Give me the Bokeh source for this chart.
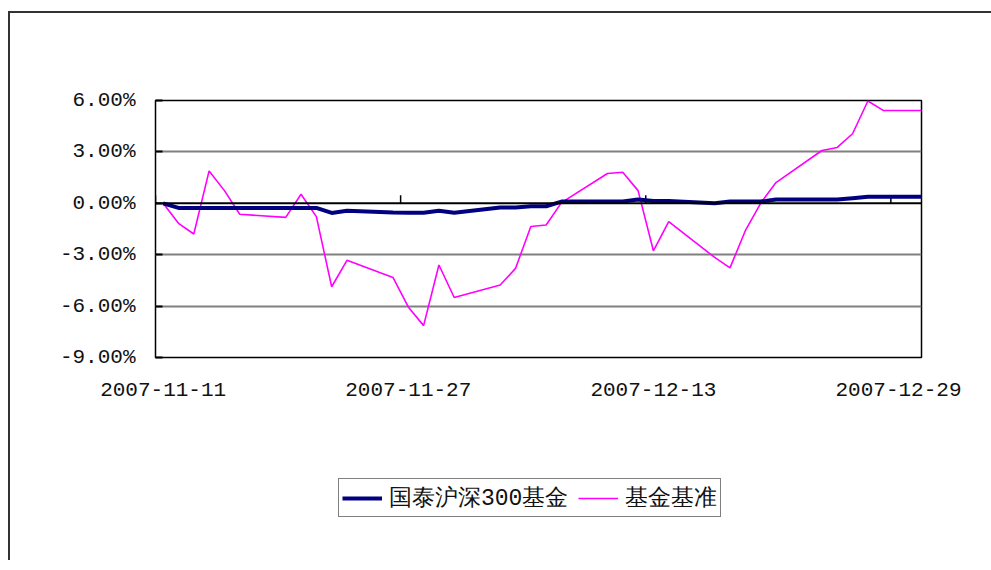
import pandas as pd
from bokeh.plotting import figure
from bokeh.layouts import column
from bokeh.models import Range1d, FixedTicker, PrintfTickFormatter, Span, Legend, LegendItem
from bokeh.embed import file_html
from bokeh.resources import INLINE

# ---- data -------------------------------------------------------------
dates = ["2007-11-11", "2007-11-12", "2007-11-13", "2007-11-14", "2007-11-15", "2007-11-16",
         "2007-11-19", "2007-11-20", "2007-11-21", "2007-11-22", "2007-11-23",
         "2007-11-26", "2007-11-27", "2007-11-28", "2007-11-29", "2007-11-30",
         "2007-12-03", "2007-12-04", "2007-12-05", "2007-12-06", "2007-12-07",
         "2007-12-10", "2007-12-11", "2007-12-12", "2007-12-13", "2007-12-14",
         "2007-12-17", "2007-12-18", "2007-12-19", "2007-12-20", "2007-12-21",
         "2007-12-24", "2007-12-25", "2007-12-26", "2007-12-27", "2007-12-28",
         "2007-12-31"]
fund = [0.00, -0.27, -0.27, -0.27, -0.27, -0.27,
        -0.27, -0.27, -0.27, -0.56, -0.44,
        -0.54, -0.55, -0.55, -0.43, -0.55,
        -0.25, -0.25, -0.17, -0.17, 0.10,
        0.10, 0.10, 0.22, 0.13, 0.13,
        0.00, 0.10, 0.10, 0.10, 0.22,
        0.22, 0.22, 0.30, 0.38, 0.38,
        0.38]
bench = [0.00, -1.17, -1.79, 1.89, 0.74, -0.64,
         -0.82, 0.53, -0.78, -4.87, -3.33,
         -4.33, -6.05, -7.14, -3.60, -5.50,
         -4.77, -3.80, -1.35, -1.27, 0.04,
         1.74, 1.81, 0.74, -2.77, -1.07,
         -3.16, -3.77, -1.60, 0.00, 1.21,
         3.08, 3.26, 4.06, 5.97, 5.42,
         5.42]
series_names = ["国泰沪深300基金", "基金基准"]
series_colors = ["#000080", "#FF00FF"]
series_widths = [4, 1.6]
x_tick_labels = ["2007-11-11", "2007-11-27", "2007-12-13", "2007-12-29"]
y_ticks = [-9, -6, -3, 0, 3, 6]
axis_start = "2007-11-11"
axis_end = "2007-12-30"

# ---- derived positions (day index, day centred on integer) ------------
t0 = pd.Timestamp(axis_start)
xs = [(pd.Timestamp(d) - t0).days for d in dates]
x_end = (pd.Timestamp(axis_end) - t0).days
tick_pos = [(pd.Timestamp(d) - t0).days for d in x_tick_labels]

p = figure(width=981, height=397, output_backend="svg", toolbar_location=None,
           x_range=Range1d(-0.5, x_end + 0.5), y_range=Range1d(y_ticks[0], y_ticks[-1]),
           min_border_left=145, min_border_right=70, min_border_top=87, min_border_bottom=53)
p.background_fill_color = "white"
p.border_fill_color = "white"
p.outline_line_color = "black"
p.outline_line_width = 1.5

# grid
p.xgrid.visible = False
p.ygrid.ticker = FixedTicker(ticks=[t for t in y_ticks if t not in (0, y_ticks[0], y_ticks[-1])])
p.ygrid.grid_line_color = "#808080"
p.ygrid.grid_line_width = 2
p.add_layout(Span(location=0, dimension="width", line_color="black", line_width=2))

# y axis
p.yaxis.ticker = FixedTicker(ticks=y_ticks)
p.yaxis.formatter = PrintfTickFormatter(format="%.2f%%")
p.yaxis.axis_line_color = None
p.yaxis.major_tick_in = 7
p.yaxis.major_tick_out = 0
p.yaxis.major_tick_line_color = "black"
p.yaxis.major_tick_line_width = 2
p.yaxis.minor_tick_line_color = None
p.yaxis.major_label_standoff = 20
p.yaxis.major_label_text_font = "Liberation Mono"
p.yaxis.major_label_text_font_size = "21px"
p.yaxis.major_label_text_color = "#111111"

# x axis
p.xaxis.ticker = FixedTicker(ticks=tick_pos)
p.xaxis.major_label_overrides = {tp: lab for tp, lab in zip(tick_pos, x_tick_labels)}
p.xaxis.axis_line_color = None
p.xaxis.major_tick_line_color = None
p.xaxis.minor_tick_line_color = None
p.xaxis.major_tick_in = 0
p.xaxis.major_tick_out = 0
p.xaxis.major_label_standoff = 25
p.xaxis.major_label_text_font = "Liberation Mono"
p.xaxis.major_label_text_font_size = "21px"
p.xaxis.major_label_text_color = "#111111"

# tick marks on zero line at day boundaries
bx = [tp - 0.5 for tp in tick_pos]
p.segment(x0=bx, y0=[0] * len(bx), x1=bx, y1=[0.47] * len(bx), line_color="black", line_width=1.5)

p.line(xs, bench, line_color=series_colors[1], line_width=series_widths[1])
p.line(xs, fund, line_color=series_colors[0], line_width=series_widths[0])

# ---- legend strip below the chart (series drawn out of view, legend only) --
q = figure(width=981, height=150, output_backend="svg", toolbar_location=None,
           x_range=Range1d(-1000, -999), y_range=Range1d(-1000, -999),
           min_border_left=0, min_border_right=0, min_border_top=0, min_border_bottom=0)
q.axis.visible = False
q.grid.visible = False
q.outline_line_color = None
q.background_fill_color = "white"
q.border_fill_color = "white"
leg_r = [q.line(xs, vals, line_color=c, line_width=w)
         for vals, c, w in zip([fund, bench], series_colors, series_widths)]
legend = Legend(items=[LegendItem(label=n, renderers=[r]) for n, r in zip(series_names, leg_r)],
                location=(183, 43), orientation="horizontal",
                border_line_color="black", border_line_width=1.5,
                background_fill_color="white", padding=3, margin=0, spacing=10,
                glyph_width=40, glyph_height=20, label_standoff=7,
                label_text_font="Liberation Mono", label_text_font_size="23px",
                label_text_color="#111111")
q.add_layout(legend, "center")

layout = column(p, q, spacing=0)
layout.styles = {"border-top": "2px solid #333333", "border-left": "2px solid #333333",
                 "margin-top": "11px", "margin-left": "8px"}

open("out.html", "w").write(file_html(layout, INLINE))
